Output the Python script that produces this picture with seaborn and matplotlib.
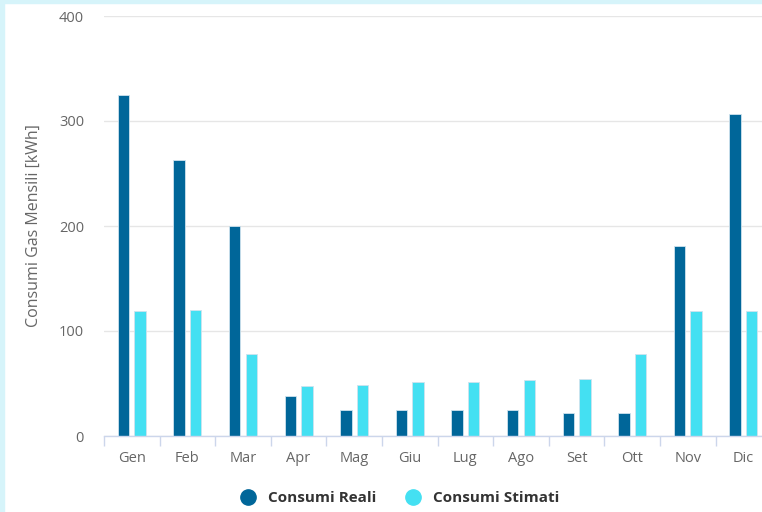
import matplotlib
matplotlib.use("Agg")
import matplotlib.pyplot as plt
import seaborn as sns
import pandas as pd
from matplotlib.lines import Line2D
from matplotlib.patches import Rectangle

mesi = ["Gen", "Feb", "Mar", "Apr", "Mag", "Giu", "Lug", "Ago", "Set", "Ott", "Nov", "Dic"]
consumi_reali = [325, 263, 200, 38, 25, 25, 25, 25, 22, 22, 181, 307]
consumi_stimati = [119, 120, 78, 48, 49, 51, 51, 53, 54, 78, 119, 119]
serie = ["Consumi Reali", "Consumi Stimati"]
colori = ["#006699", "#44e0f2"]
y_ticks = [0, 100, 200, 300, 400]

df = pd.DataFrame({
    "mese": mesi * 2,
    "valore": consumi_reali + consumi_stimati,
    "serie": [serie[0]] * len(mesi) + [serie[1]] * len(mesi),
})

sns.set_theme(style="white")
plt.rcParams["font.family"] = ["Open Sans", "DejaVu Sans"]

fig = plt.figure(figsize=(7.62, 5.12), dpi=100)
W, H = 762, 512
PX = 72 / 100  # points per pixel
# light blue frame on left/top
fig.patches.append(Rectangle((0, 0), 4 / W, 1, transform=fig.transFigure, color="#d6f4fa", zorder=0))
fig.patches.append(Rectangle((0, 1 - 3 / H), 1, 3 / H, transform=fig.transFigure, color="#d6f4fa", zorder=0))

left, right = 104, 104 + 12 * 55.6
ax = fig.add_axes([left / W, (H - 436) / H, (right - left) / W, 420 / H])

sns.barplot(data=df, x="mese", y="valore", hue="serie", palette=colori,
            order=mesi, hue_order=serie, width=0.6, gap=0.31, ax=ax,
            saturation=1, edgecolor="#cfe3ee", linewidth=0.6, legend=False)

ax.set_xlim(-0.5, 11.5)
ax.set_ylim(0, 400)
ax.set_yticks(y_ticks)
ax.set_yticklabels([str(v) for v in y_ticks], color="#666666", fontsize=10.5)
ax.yaxis.grid(True, color="#e6e6e6", linewidth=1)
ax.set_axisbelow(True)
ax.tick_params(axis="y", length=0, pad=20 * PX)
for s in ["top", "right", "left"]:
    ax.spines[s].set_visible(False)
ax.spines["bottom"].set_color("#ccd6eb")
ax.spines["bottom"].set_linewidth(1)

ax.set_xticks(range(len(mesi)))
ax.set_xticklabels(mesi, color="#666666", fontsize=10.5)
ax.tick_params(axis="x", which="major", length=0, pad=15 * PX)
ax.set_xticks([i - 0.5 for i in range(len(mesi) + 1)], minor=True)
ax.tick_params(axis="x", which="minor", bottom=True, length=10 * PX, color="#ccd6eb",
               width=1, direction="out")

ax.set_xlabel("")
ax.set_ylabel("Consumi Gas Mensili [kWh]", color="#666666", fontsize=11.5)
ax.yaxis.set_label_coords((34 - left) / (right - left), 0.5)
ax.yaxis.label.set_va("center")

handles = [Line2D([0], [0], marker="o", linestyle="", markersize=11,
                  markerfacecolor=c, markeredgecolor=c) for c in colori]
leg = fig.legend(handles, serie, loc="center", bbox_to_anchor=(396 / W, 1 - 498 / H),
                 ncol=2, frameon=False, handletextpad=0.3, columnspacing=1.4,
                 prop={"weight": "bold", "size": 11})
for t in leg.get_texts():
    t.set_color("#333333")

fig.savefig("out.png", dpi=100)
